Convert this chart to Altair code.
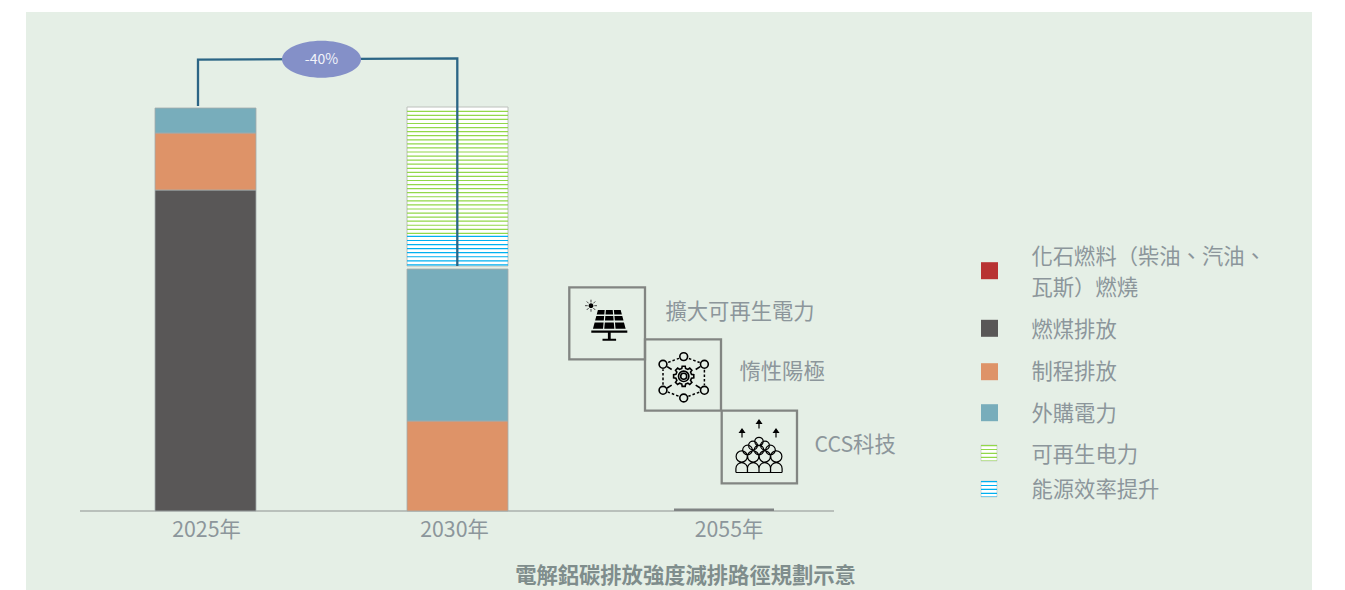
import math
import altair as alt
import pandas as pd

# ---------- chart values (1 unit = one step of the drawn intensity scale) ----------
years = ["2025年", "2030年", "2055年"]
coal = [321, 0, 0]
process = [57, 90, 0]
purchased = [25, 152, 0]
efficiency = [0, 32, 0]
renewable = [0, 127, 0]
residual = [0, 0, 2.5]
gap_2030 = 3

legend_labels = ["化石燃料（柴油、汽油、", "瓦斯）燃燒", "燃煤排放", "制程排放", "外購電力", "可再生电力", "能源效率提升"]
measure_labels = ["擴大可再生電力", "惰性陽極", "CCS科技"]
reduction_label = "-40%"
title_text = "電解鋁碳排放強度減排路徑規劃示意"

# ---------- layout ----------
W, H = 1329, 582
BASE = 511
C_BG = "#e5efe6"
C_TXT = "#8c969b"
C_COAL, C_PROC, C_POWER = "#595757", "#de9368", "#78adbb"
C_RED, C_GREEN, C_BLUE = "#b83232", "#92d84a", "#00b0f0"
C_LINE = "#2b6585"
C_BOX = "#828582"
FONT = "Noto Sans CJK TC"


def up(py):
    return BASE - py


xs = alt.Scale(domain=[8, 8 + W], range=[0, W], nice=False, zero=False)
ys = alt.Scale(domain=[BASE - 590, BASE - 8], range=[H, 0], nice=False, zero=False)
X = lambda f="x": alt.X(f"{f}:Q", scale=xs, axis=None)
Y = lambda f="y": alt.Y(f"{f}:Q", scale=ys, axis=None)


def rect(x0, x1, y0, y1, **kw):
    d = pd.DataFrame({"x": [x0], "x2": [x1], "y": [y0], "y2": [y1]})
    return alt.Chart(d).mark_rect(**kw).encode(
        x=X(), x2="x2:Q", y=Y(), y2="y2:Q")


def stripes(x0, x1, y0, y1, color, period=4.07, lw=1.2):
    d = pd.DataFrame({"x": [(x0 + x1) / 2], "y": [y0], "y2": [y1]})
    return alt.Chart(d).mark_rule(
        color=color, strokeWidth=x1 - x0, strokeDash=[lw, period - lw], opacity=1
    ).encode(x=X(), y=Y(), y2="y2:Q")


def text(x, py, s, size=21.3, color=C_TXT, align="left", weight=400):
    d = pd.DataFrame({"x": [x], "y": [up(py)], "t": [s]})
    return alt.Chart(d).mark_text(
        font=FONT, fontSize=size, color=color, align=align, baseline="middle", fontWeight=weight
    ).encode(x=X(), y=Y(), text="t:N")


def shape(cx, cy, path, fill=None, stroke=None, sw=1.0, op=1.0):
    d = pd.DataFrame({"x": [cx], "y": [up(cy)]})
    kw = dict(shape=path, size=4, opacity=op, filled=fill is not None)
    if fill is not None:
        kw["fill"] = fill
    if stroke is not None:
        kw["stroke"] = stroke
        kw["strokeWidth"] = sw
    else:
        kw["strokeWidth"] = 0
    return alt.Chart(d).mark_point(**kw).encode(x=X(), y=Y())


def circ(x, y, r):
    return f"M{x-r:.2f},{y:.2f}A{r},{r} 0 1 1 {x+r:.2f},{y:.2f}A{r},{r} 0 1 1 {x-r:.2f},{y:.2f}Z"


def seg(x0, y0, x1, y1):
    return f"M{x0:.2f},{y0:.2f}L{x1:.2f},{y1:.2f}"


layers = []

# panel
layers.append(rect(26, 1312, up(12), up(590), color=C_BG))

# baseline
layers.append(alt.Chart(pd.DataFrame({"x": [80], "x2": [834], "y": [0]})).mark_rule(
    color="#aab0ac", strokeWidth=1.5).encode(x=X(), x2="x2:Q", y=Y()))

# bars
edge = dict(stroke="#a3abab", strokeWidth=0.8)
cx = [205.5, 457.5, 724]
hw = 50.5
y0 = 0
for v, col in zip([coal[0], process[0], purchased[0]], [C_COAL, C_PROC, C_POWER]):
    layers.append(rect(cx[0] - hw, cx[0] + hw, y0, y0 + v, color=col, **edge))
    y0 += v
y0 = 0
for v, col in zip([process[1], purchased[1]], [C_PROC, C_POWER]):
    layers.append(rect(cx[1] - hw, cx[1] + hw, y0, y0 + v, color=col, **edge))
    y0 += v
y0 += gap_2030
y1 = y0 + efficiency[1]
y2 = y1 + renewable[1]
layers.append(rect(cx[1] - hw, cx[1] + hw, y0, y2, color="#ffffff", stroke="#bcc0bc", strokeWidth=1))
layers.append(stripes(cx[1] - hw, cx[1] + hw, y0 + 0.5, y1, C_BLUE))
layers.append(stripes(cx[1] - hw, cx[1] + hw, y1, y2 - 1, C_GREEN))
layers.append(rect(cx[2] - hw + 0.5, cx[2] + hw - 0.5, 0, residual[2], color="#808484"))

# year labels
for c, s in zip([206.5, 454.5, 729], years):
    layers.append(text(c, 530.5, s, align="center"))

# connector
conn = pd.DataFrame({"x": [198, 198, 457.3, 457.3], "y": [up(106), up(59.7), up(58.3), up(266)], "o": [0, 1, 2, 3]})
layers.append(alt.Chart(conn).mark_line(color=C_LINE, strokeWidth=2.3, strokeJoin="miter").encode(
    x=X(), y=Y(), order="o:Q"))
layers.append(shape(321.5, 59.3, "M-39.5,0A39.5,18.5 0 1 1 39.5,0A39.5,18.5 0 1 1 -39.5,0Z", fill="#8490c8"))
layers.append(text(321.5, 59.5, reduction_label, size=14, color="#f1f3fa", align="center"))

# measure boxes
for (a, b, c, d) in [(569.3, 645, 287.3, 359.3), (645, 721, 339.3, 410.7), (721.7, 797, 410.7, 483.3)]:
    layers.append(rect(a, b, up(c), up(d), fill=C_BG, fillOpacity=0, stroke=C_BOX, strokeWidth=2.3))

# solar icon
k = []
rows = [(-15, -10.6), (-9, -4.4), (-2.6, 3.8)]
for (t, b) in rows:
    hwt = 12 + (t + 15) / 19 * 5
    hwb = 12 + (b + 15) / 19 * 5
    for i in range(3):
        xt0, xt1 = -hwt + i * 2 * hwt / 3 + 0.6, -hwt + (i + 1) * 2 * hwt / 3 - 0.6
        xb0, xb1 = -hwb + i * 2 * hwb / 3 + 0.6, -hwb + (i + 1) * 2 * hwb / 3 - 0.6
        k.append(f"M{xt0:.2f},{t}L{xt1:.2f},{t}L{xb1:.2f},{b}L{xb0:.2f},{b}Z")
k.append("M-18,5.4L18,5.4L18,7.8L-18,7.8Z")
k.append("M-1.4,7.8L1.4,7.8L1.4,14L-1.4,14Z")
k.append("M-6.8,13.8L6.8,13.8L6.8,15.8L-6.8,15.8Z")
k.append(circ(-18.3, -19.3, 2.4))
layers.append(shape(609.3, 325, "".join(k), fill="#000000"))
rays = "".join(seg(-18.3 + 3.3 * math.cos(a * math.pi / 4), -19.3 + 3.3 * math.sin(a * math.pi / 4),
                   -18.3 + 6 * math.cos(a * math.pi / 4), -19.3 + 6 * math.sin(a * math.pi / 4)) for a in range(8))
layers.append(shape(609.3, 325, rays, stroke="#444444", sw=1.0))

# network / gear icon
nodes = [(0, -20.7), (20.7, -13), (20.7, 13), (0, 20.7), (-20.7, 13), (-20.7, -13)]
dash = ""
for i in range(6):
    ax, ay = nodes[i]
    bx, by = nodes[(i + 1) % 6]
    L = math.hypot(bx - ax, by - ay)
    ux, uy = (bx - ax) / L, (by - ay) / L
    p = 5.5
    while p < L - 5.5:
        dash += seg(ax + ux * p, ay + uy * p, ax + ux * min(p + 2.6, L - 5), ay + uy * min(p + 2.6, L - 5))
        p += 4.6
solid = "".join(circ(x, y, 3.9) for x, y in nodes)
for (x, y) in [nodes[1], nodes[2], nodes[4], nodes[5]]:
    solid += seg(x * 0.8, y * 0.82, x * 0.58, y * 0.6)
solid += circ(0, -1, 5.2) + circ(0, -1, 3)
teeth = []
n = 8
for i in range(n):
    for ang, r in [(-0.24, 8), (-0.15, 10.2), (0.15, 10.2), (0.24, 8)]:
        th = (i / n) * 2 * math.pi + ang
        teeth.append((r * math.cos(th), -1 + r * math.sin(th)))
solid += "M" + "L".join(f"{x:.2f},{y:.2f}" for x, y in teeth) + "Z"
layers.append(shape(683.7, 377.3, dash, stroke="#000000", sw=1.5))
layers.append(shape(683.7, 377.3, solid, stroke="#000000", sw=1.6))

# crowd icon
c = ""
for x in [-17.3, -5.8, 5.8, 17.3]:
    c += f"M{x-5.8:.1f},16L{x-5.8:.1f},12A5.8,5.8 0 0 1 {x+5.8:.1f},12L{x+5.8:.1f},16"
c += "M-23,16L23,16"
for x in [-17.3, -5.8, 5.8, 17.3]:
    c += circ(x, 0, 5.6)
for x in [-11.5, 0, 11.5]:
    c += circ(x, -6.5, 4.8)
for x in [-6, 6]:
    c += circ(x, -11, 4.4)
c += circ(0, -15, 4.2)
layers.append(shape(759, 456.5, c, stroke="#000000", sw=1.2))
arrows = ""
for (x, t) in [(-17, -27), (0, -36), (17, -27)]:
    arrows += seg(x, t, x, t + 8) + f"M{x-2.4},{t+3}L{x},{t-0.5}L{x+2.4},{t+3}Z"
layers.append(shape(759, 456.5, arrows, fill="#000000", stroke="#000000", sw=1.2))

# measure labels
for (x, y, s) in zip([665.5, 739.5, 814.5], [312.5, 372.5, 445.5], measure_labels):
    layers.append(text(x, y, s))

# legend
sq = [(270.7, C_RED), (328.3, C_COAL), (371.7, C_PROC), (412.7, C_POWER)]
for yy, col in sq:
    layers.append(rect(981, 998, up(yy - 8.5), up(yy + 8.5), color=col))
for yy, col in [(453, C_GREEN), (489, C_BLUE)]:
    layers.append(rect(981, 997, up(yy - 8), up(yy + 8), color="#ffffff", stroke="#c5cac5", strokeWidth=0.7))
    layers.append(stripes(981, 997, up(yy - 8), up(yy + 8), col, period=3.9, lw=1.2))
for yy, s in zip([257.5, 288.5, 330.5, 372.5, 414.5, 455.5, 490.5], legend_labels):
    layers.append(text(1031.5, yy, s))

# caption
layers.append(text(685.5, 576.5, title_text, size=21.3, color="#7f8d8c", align="center", weight=700))

chart = alt.layer(*layers).properties(
    width=W, height=H, padding=0, autosize=alt.AutoSizeParams(type="none"), background="#ffffff"
).configure_view(stroke=None)

chart.save("out.html", embed_options={"renderer": "svg", "actions": False})
